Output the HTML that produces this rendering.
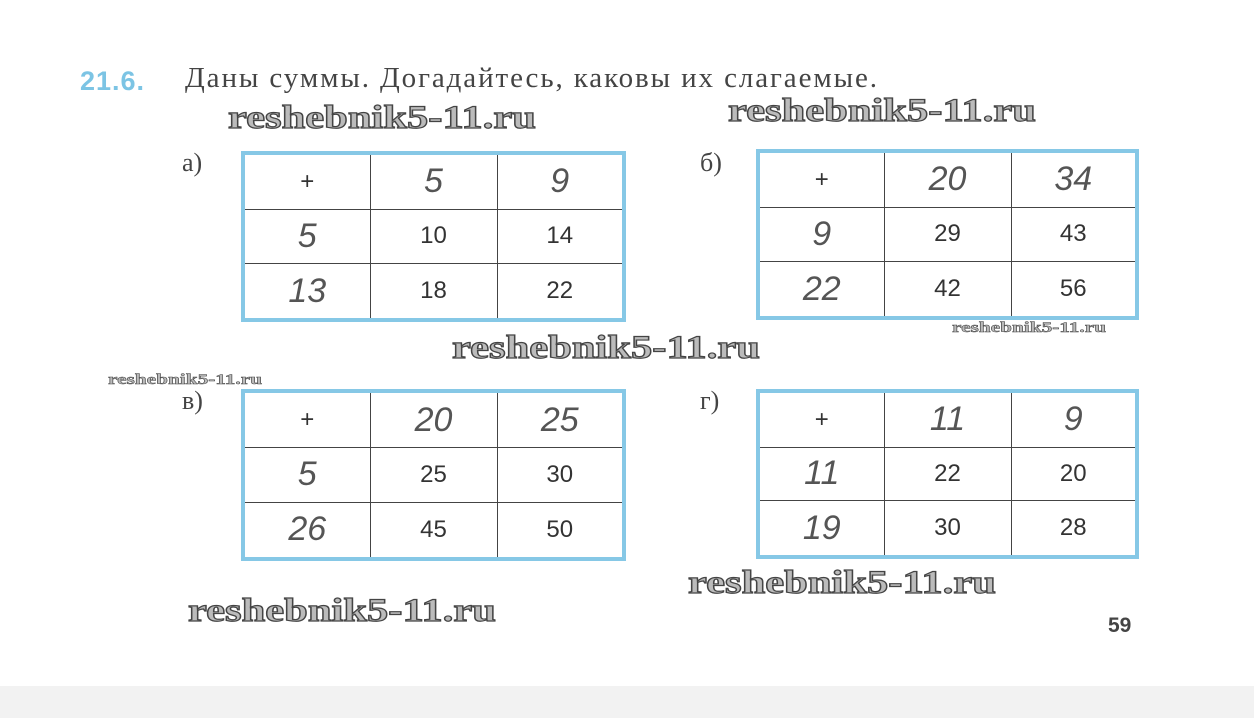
<!DOCTYPE html>
<html><head><meta charset="utf-8"><style>
body{margin:0;width:1254px;height:718px;background:#fff;position:relative;overflow:hidden;font-family:"Liberation Sans",sans-serif}
.a{position:absolute;white-space:nowrap}
.bot{position:absolute;left:0;top:686px;width:1254px;height:32px;background:#f2f2f2}
.wm{position:absolute;font-family:"Liberation Serif",serif;font-weight:bold;color:#bbb;-webkit-text-stroke:1.2px #444;white-space:nowrap;transform-origin:0 0;transform:scaleX(1.29)}
table{position:absolute;border-collapse:collapse;border:4px solid #86c8e6}
td{border:1.5px solid #444;text-align:center;font-size:24px;color:#333;padding:0}
.h{font-style:italic;font-size:34px;color:#555;font-family:"Liberation Sans",sans-serif}
.lbl{position:absolute;font-family:"Liberation Serif",serif;font-size:26px;color:#444}
</style></head><body>
<div class="a" style="left:80px;top:66px;font-size:27px;font-weight:bold;color:#7cc4e4;letter-spacing:1px">21.6.</div>
<div class="a" style="left:185px;top:62px;font-size:29px;font-family:'Liberation Serif',serif;color:#444;letter-spacing:1.9px">Даны суммы. Догадайтесь, каковы их слагаемые.</div>
<div class="wm" style="left:228px;top:100px;font-size:33px">reshebnik5-11.ru</div>
<div class="wm" style="left:728px;top:93px;font-size:33px">reshebnik5-11.ru</div>
<div class="wm" style="left:452px;top:330px;font-size:33px">reshebnik5-11.ru</div>
<div class="wm" style="left:952px;top:320px;font-size:15px;-webkit-text-stroke:0.5px #444;transform:scaleX(1.42)">reshebnik5-11.ru</div>
<div class="wm" style="left:108px;top:372px;font-size:15px;-webkit-text-stroke:0.5px #444;transform:scaleX(1.42)">reshebnik5-11.ru</div>
<div class="wm" style="left:688px;top:565px;font-size:33px">reshebnik5-11.ru</div>
<div class="wm" style="left:188px;top:593px;font-size:33px">reshebnik5-11.ru</div>
<div class="lbl" style="left:182px;top:148px">а)</div>
<div class="lbl" style="left:700px;top:148px">б)</div>
<div class="lbl" style="left:182px;top:386px">в)</div>
<div class="lbl" style="left:700px;top:386px">г)</div>
<div class="a" style="left:1108px;top:614px;font-size:21px;font-weight:bold;color:#444">59</div>

<table style="left:241px;top:151px;width:385px;height:171px"><colgroup><col width="127"><col width="127"><col width="127"></colgroup>
<tr><td>+</td><td class="h">5</td><td class="h">9</td></tr>
<tr><td class="h">5</td><td>10</td><td>14</td></tr>
<tr><td class="h">13</td><td>18</td><td>22</td></tr></table>

<table style="left:756px;top:149px;width:383px;height:171px"><colgroup><col width="126"><col width="127"><col width="126"></colgroup>
<tr><td>+</td><td class="h">20</td><td class="h">34</td></tr>
<tr><td class="h">9</td><td>29</td><td>43</td></tr>
<tr><td class="h">22</td><td>42</td><td>56</td></tr></table>

<table style="left:241px;top:389px;width:385px;height:172px"><colgroup><col width="127"><col width="127"><col width="127"></colgroup>
<tr><td>+</td><td class="h">20</td><td class="h">25</td></tr>
<tr><td class="h">5</td><td>25</td><td>30</td></tr>
<tr><td class="h">26</td><td>45</td><td>50</td></tr></table>

<table style="left:756px;top:389px;width:383px;height:170px"><colgroup><col width="126"><col width="127"><col width="126"></colgroup>
<tr><td>+</td><td class="h">11</td><td class="h">9</td></tr>
<tr><td class="h">11</td><td>22</td><td>20</td></tr>
<tr><td class="h">19</td><td>30</td><td>28</td></tr></table>
<div class="bot"></div>
</body></html>
